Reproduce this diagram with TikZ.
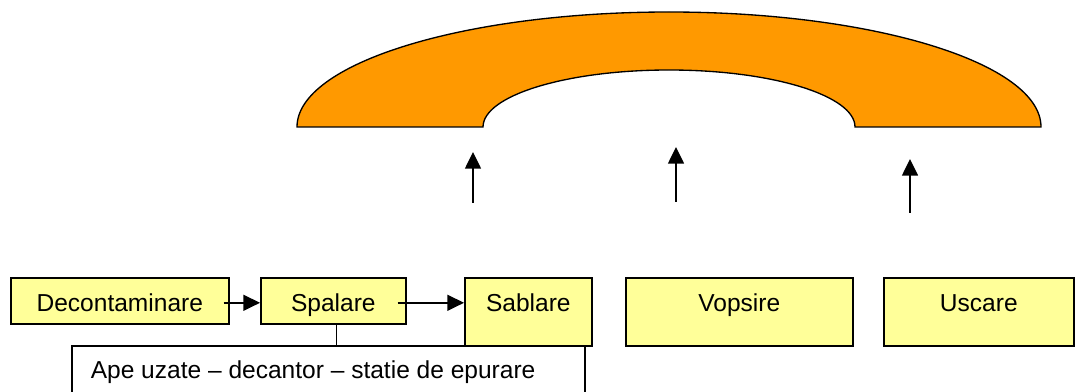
\documentclass[tikz,border=0pt]{standalone}
\usepackage{fontspec}
\setmainfont{Liberation Sans}
\usetikzlibrary{arrows.meta}
\definecolor{boxyellow}{HTML}{FFFF99}
\definecolor{arcorange}{HTML}{FF9900}
\tikzset{
  procbox/.style={draw=black, line width=1.2pt, fill=boxyellow, inner xsep=0pt, inner ysep=0pt,
    anchor=north west, font=\fontsize{18.4pt}{22pt}\selectfont, text height=25.1pt},
  shortbox/.style={procbox, text depth=9.4pt},
  tallbox/.style={procbox, text depth=25.9pt},
  notebox/.style={draw=black, line width=1.2pt, fill=white, inner xsep=14.25pt, inner ysep=0pt,
    anchor=north west, font=\fontsize{18.4pt}{22pt}\selectfont, text height=24.5pt, text depth=25pt},
  flow/.style={line width=1.1pt, -{Triangle[length=12.5pt,width=12pt]}},
  arcshape/.style={draw=black, line width=1pt, fill=arcorange}
}
\begin{document}
\begin{tikzpicture}[x=0.75pt,y=-0.75pt]
\useasboundingbox (0,0) rectangle (1075,392);

% orange arch
\path[arcshape] (297,127) arc[start angle=180, end angle=0, x radius=279pt, y radius=86.25pt]
  -- (855,127) arc[start angle=0, end angle=180, x radius=139.5pt, y radius=42.75pt] -- cycle;

% process boxes
\node[shortbox, minimum width=163.5pt] (decon) at (10,277) {Decontaminare};
\node[shortbox, minimum width=108.75pt] (spalare) at (260,277) {Spalare};
\node[tallbox, minimum width=95.25pt] (sablare) at (464,277) {Sablare};
\node[tallbox, minimum width=170.25pt] (vopsire) at (625,277) {Vopsire};
\node[tallbox, minimum width=142.5pt] (uscare) at (883,277) {Uscare};

% waste water box
\node[notebox] (ape) at (71,345) {\makebox[356.25pt][l]{Ape uzate – decantor – statie de epurare}};

% connectors
\draw[flow] ([xshift=-4.5pt,yshift=-1.5pt]decon.east) -- ([yshift=-1.5pt]spalare.west);
\draw[flow] ([xshift=-6.75pt,yshift=-1.5pt]spalare.east) -- ([yshift=-1.5pt]spalare.east -| sablare.west);
\draw[line width=1pt] ([xshift=2.6pt]spalare.south) -- ([xshift=2.6pt]spalare.south |- ape.north);

% upward arrows
\coordinate (a1s) at (473,203); \coordinate (a1e) at (473,152);
\coordinate (a2s) at (676,202); \coordinate (a2e) at (676,147);
\coordinate (a3s) at (910,213); \coordinate (a3e) at (910,159);
\draw[flow] (a1s) -- (a1e);
\draw[flow] (a2s) -- (a2e);
\draw[flow] (a3s) -- (a3e);
\end{tikzpicture}
\end{document}
